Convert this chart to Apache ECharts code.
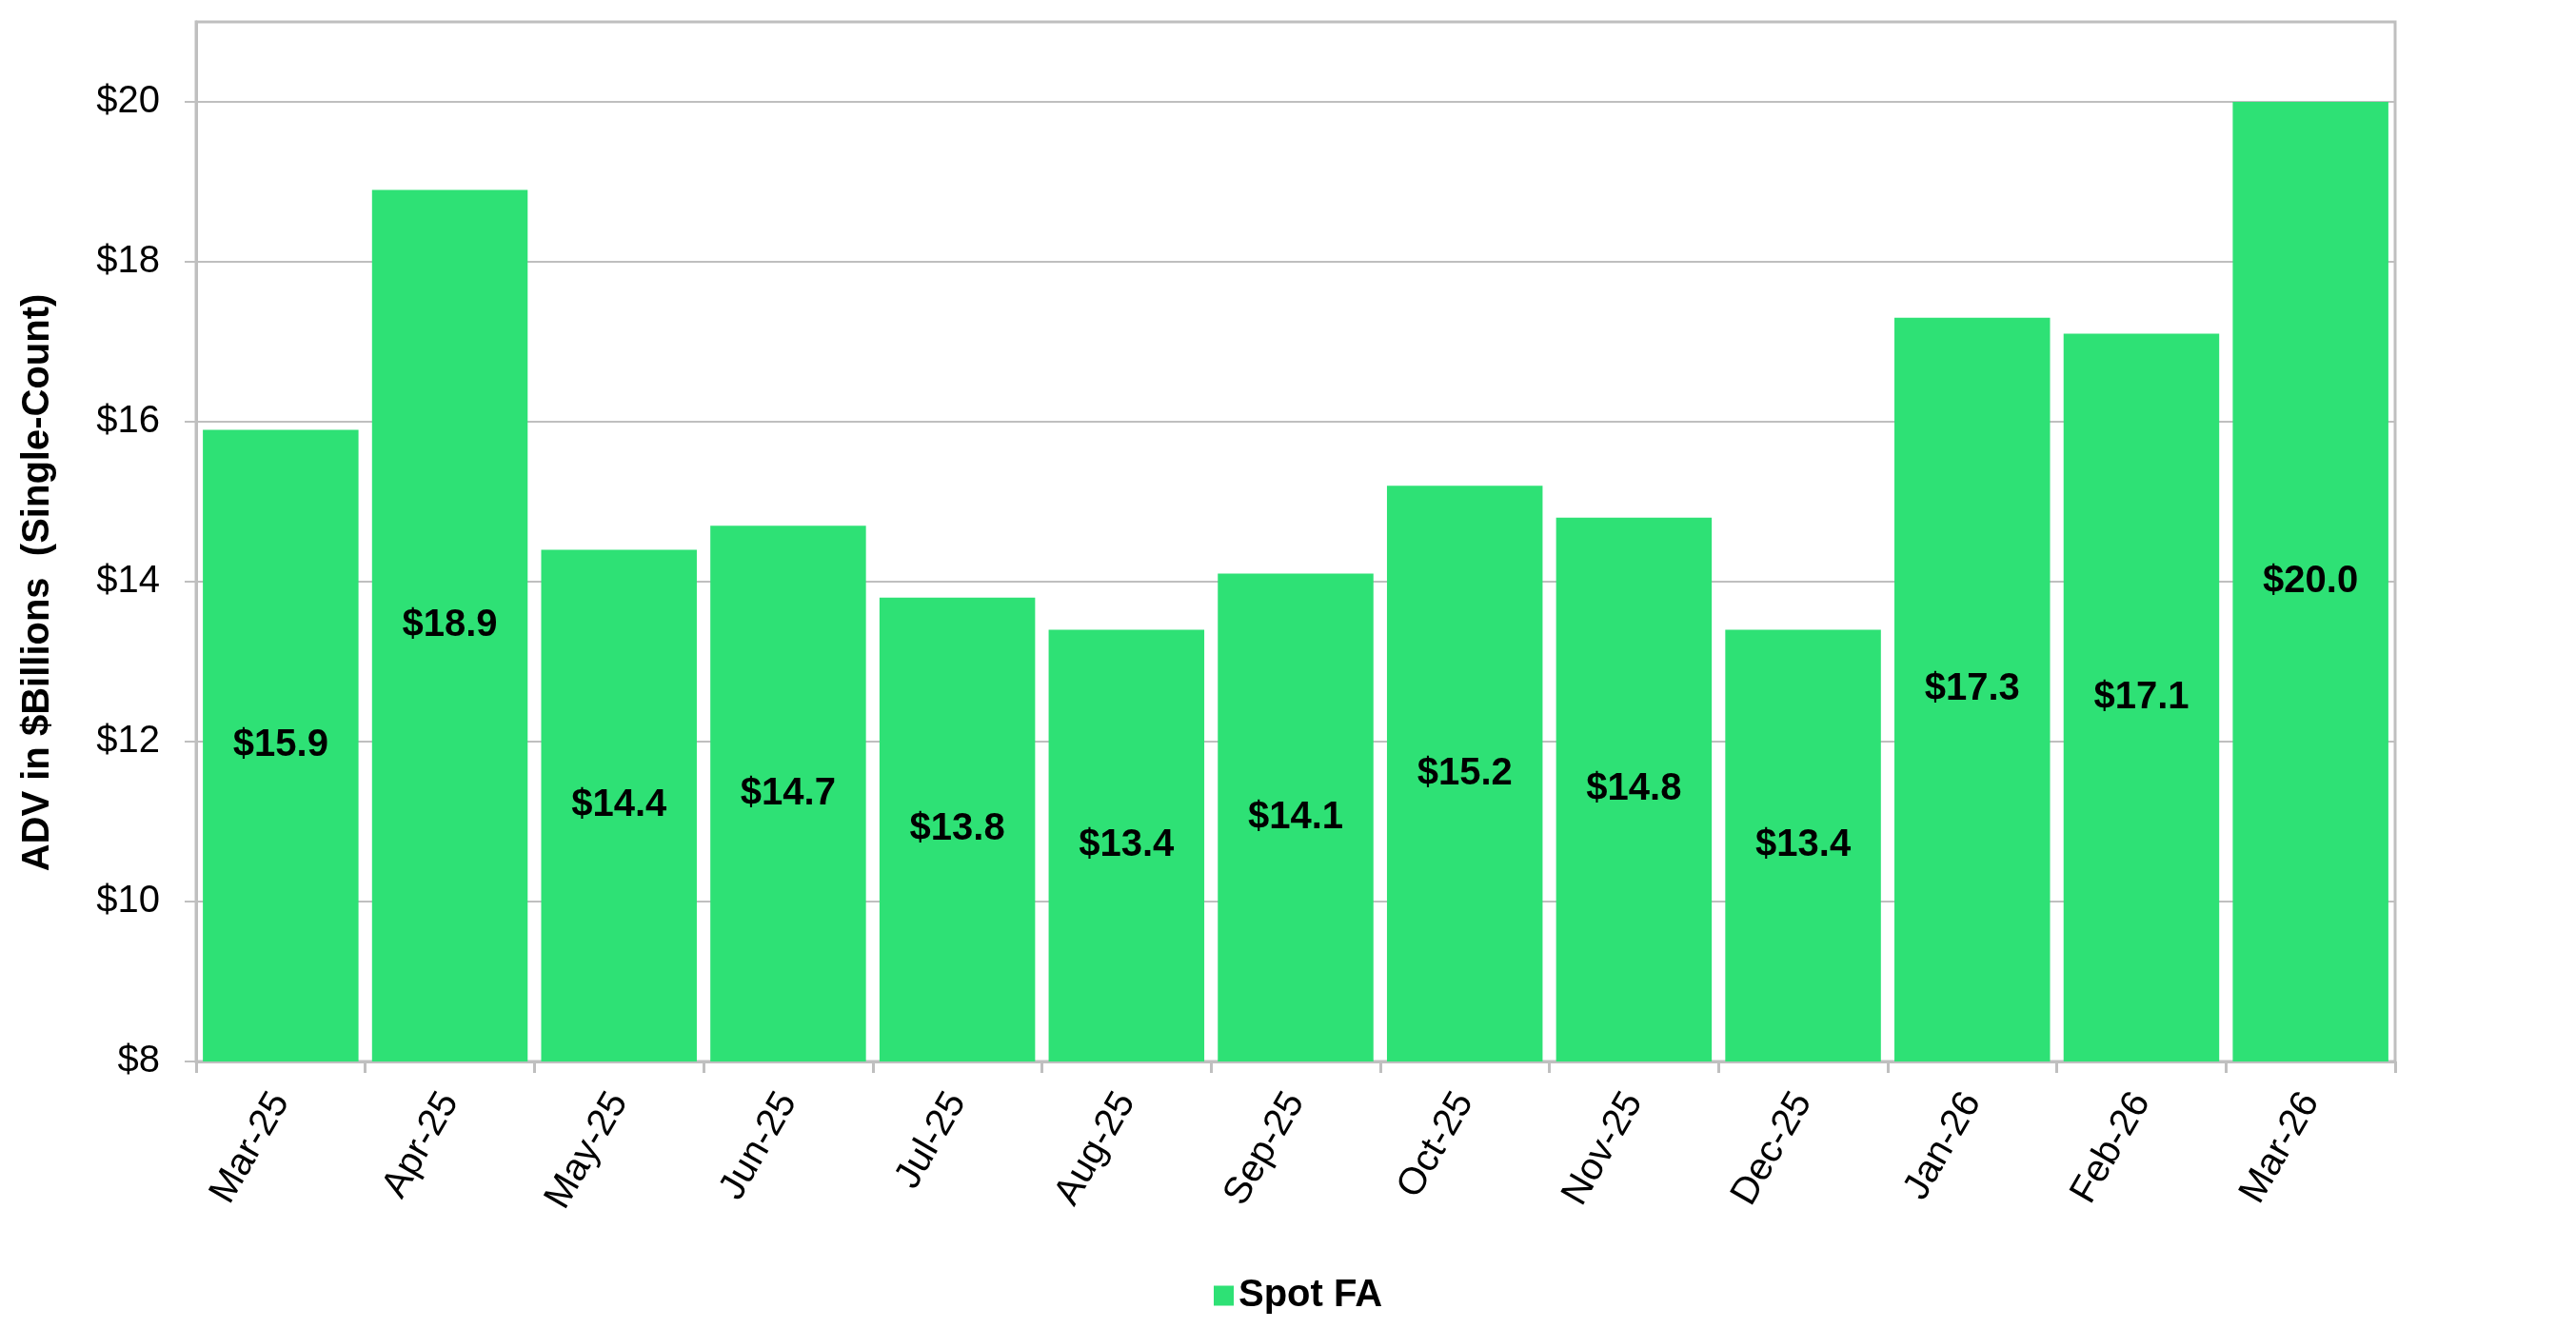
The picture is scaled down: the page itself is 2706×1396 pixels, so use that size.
<!DOCTYPE html>
<html>
<head>
<meta charset="utf-8">
<script src="https://cdn.jsdelivr.net/npm/echarts@6/dist/echarts.min.js"></script>
<style>
html,body{margin:0;padding:0;background:#fff;}
#chart{width:2706px;height:1396px;}
</style>
</head>
<body>
<div id="chart"></div>
<script>
const categories = ['Mar-25','Apr-25','May-25','Jun-25','Jul-25','Aug-25','Sep-25','Oct-25','Nov-25','Dec-25','Jan-26','Feb-26','Mar-26'];
const spotFA = [15.9, 18.9, 14.4, 14.7, 13.8, 13.4, 14.1, 15.2, 14.8, 13.4, 17.3, 17.1, 20.0];
const yTicks = [8, 10, 12, 14, 16, 18, 20];
const seriesName = 'Spot FA';
const yTitle = 'ADV in $Billions  (Single-Count)';

const FONT = '"Liberation Sans", Arial, sans-serif';
const GRID = '#bfbfbf';

const chart = echarts.init(document.getElementById('chart'), null, {renderer: 'canvas'});
chart.setOption({
  animation: false,
  backgroundColor: '#ffffff',
  textStyle: {fontFamily: FONT},
  grid: {left: 206, top: 23, right: 190, bottom: 281, show: true, borderColor: GRID, borderWidth: 3, backgroundColor: 'transparent'},
  legend: {
    data: [seriesName],
    left: 1270, top: 1336,
    icon: 'rect', itemWidth: 21, itemHeight: 21, itemGap: 11,
    textStyle: {fontFamily: FONT, fontSize: 40, fontWeight: 'bold', color: '#000'}
  },
  graphic: [{
    type: 'text', x: 40, y: 612, rotation: Math.PI / 2,
    style: {text: yTitle, font: 'bold 40px ' + FONT, fill: '#000', align: 'center', verticalAlign: 'middle'}
  }],
  xAxis: {
    type: 'category', data: categories,
    axisLine: {show: true, lineStyle: {color: GRID, width: 3}},
    axisTick: {show: true, length: 12, lineStyle: {color: GRID, width: 3}},
    axisLabel: {rotate: 60, fontSize: 40, color: '#000', fontFamily: FONT, margin: 36, interval: 0}
  },
  yAxis: {
    type: 'value', min: 8, max: 21, interval: 2,
    axisLine: {show: true, lineStyle: {color: GRID, width: 3}},
    axisTick: {show: true, length: 12, lineStyle: {color: GRID, width: 2}, customValues: yTicks},
    axisLabel: {fontSize: 40, color: '#000', fontFamily: FONT, margin: 38, customValues: yTicks,
      formatter: v => (v > 20 ? '' : '$' + v)},
    splitLine: {show: true, lineStyle: {color: GRID, width: 2}}
  },
  series: [{
    name: seriesName, type: 'bar', data: spotFA,
    barCategoryGap: '8%',
    itemStyle: {color: '#2ee175'},
    label: {show: true, position: 'inside', fontSize: 40, fontWeight: 'bold', color: '#000', fontFamily: FONT,
      formatter: p => '$' + p.value.toFixed(1)}
  }]
});
</script>
</body>
</html>
